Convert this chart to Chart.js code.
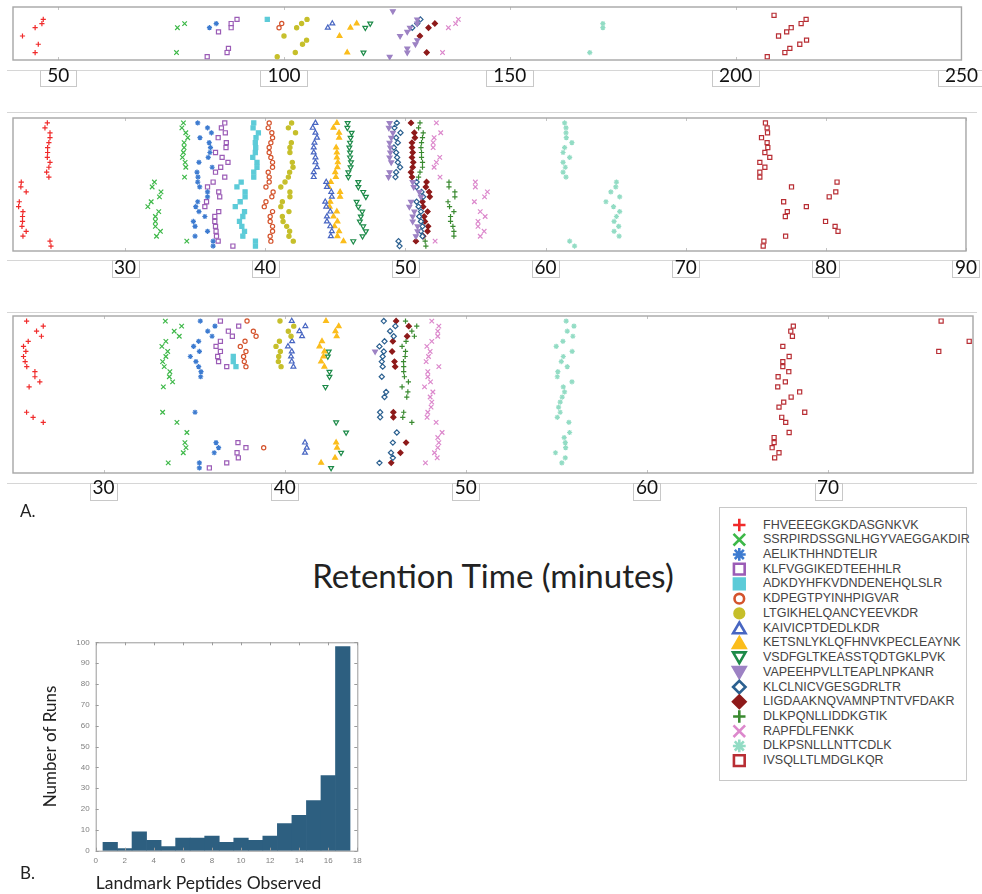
<!DOCTYPE html>
<html>
<head>
<meta charset="utf-8">
<script src="https://cdn.jsdelivr.net/npm/chart.js@4.4.1/dist/chart.umd.min.js"></script>
<style>
  body { margin: 0; background: #fff; }
  #page { position: relative; width: 982px; height: 894px; overflow: hidden; font-family: Lato, sans-serif; color: #222; }
  .abs { position: absolute; }
  .tag { font-size: 17px; }
  #title { left: 0; width: 986px; top: 555px; text-align: center; font-size: 33px; }
  #legend { left: 719px; top: 507px; width: 248px; height: 274px; border: 1px solid #c8c8c8; box-sizing: border-box; }
  .leg { left: 763px; font-family: "Liberation Sans", Arial, sans-serif; font-size: 12.5px; color: #444; line-height: 15px; white-space: nowrap; }
</style>
</head>
<body>
<div id="page">
  <canvas id="runTop" class="abs" style="left:0;top:0" width="982" height="95"></canvas>
  <canvas id="runMid" class="abs" style="left:0;top:105px" width="982" height="180"></canvas>
  <canvas id="runLow" class="abs" style="left:0;top:300px" width="982" height="205"></canvas>
  <div class="abs tag" style="left:20px;top:500px">A.</div>
  <div id="title" class="abs">Retention Time (minutes)</div>
  <div id="legend" class="abs"></div>
  <canvas id="legendMarks" class="abs" style="left:727px;top:515px" width="26" height="260"></canvas>
  <canvas id="hist" class="abs" style="left:0;top:630px" width="380" height="264"></canvas>
  <div class="abs tag" style="left:20px;top:862px">B.</div>
</div>

<script>
// landmark peptides, legend order
const peptides = ['FHVEEEGKGKDASGNKVK', 'SSRPIRDSSGNLHGYVAEGGAKDIR', 'AELIKTHHNDTELIR', 'KLFVGGIKEDTEEHHLR',
  'ADKDYHFKVDNDENEHQLSLR', 'KDPEGTPYINHPIGVAR', 'LTGIKHELQANCYEEVKDR', 'KAIVICPTDEDLKDR',
  'KETSNLYKLQFHNVKPECLEAYNK', 'VSDFGLTKEASSTQDTGKLPVK', 'VAPEEHPVLLTEAPLNPKANR', 'KLCLNICVGESGDRLTR',
  'LIGDAAKNQVAMNPTNTVFDAKR', 'DLKPQNLLIDDKGTIK', 'RAPFDLFENKK', 'DLKPSNLLLNTTCDLK', 'IVSQLLTLMDGLKQR'];

// [run, retention time in minutes] per peptide, top strip (12 runs)
const runsTop = [
  [[2,46.7],[3,46.4],[4,44.9],[6,42.1],[8,45.6],[10,44.9]],
  [[3,78.0],[4,76.4],[10,76.2]],
  [[3,85.0],[4,83.5]],
  [[2,89.6],[3,88.3],[4,88.3],[5,85.5],[9,87.7],[10,87.4],[11,83.0]],
  [[2,96.3]],
  [[3,99.5],[4,98.9]],
  [[2,105.1],[3,103.9],[4,102.8],[6,100.0],[7,105.0],[8,104.1],[10,102.5],[11,98.5]],
  [[3,110.7],[4,109.7]],
  [[3,116.1],[4,114.7],[6,112.3],[10,114.0]],
  [[3,119.1],[4,118.0],[10,117.6]],
  [[0,124.1],[2,129.5],[3,129.5],[4,127.9],[5,127.3],[6,125.7],[7,129.5],[8,129.1],[9,127.3],[10,127.3],[11,123.4]],
  [[2,130.2],[3,129.5],[4,128.4]],
  [[3,133.4],[4,132.0],[6,130.1],[10,131.6]],
  [],
  [[2,138.6],[3,138.0],[4,136.4],[10,135.1]],
  [[3,170.6],[4,170.6],[10,167.7]],
  [[1,208.5],[2,215.6],[3,214.5],[4,212.3],[5,211.3],[6,209.5],[7,215.7],[8,214.2],[9,212.0],[10,210.9],[11,207.0]]
];

// middle strip (26 runs)
const runsMid = [
  [[0,24.45],[1,24.28],[2,24.64],[3,24.64],[4,24.56],[5,24.47],[6,24.47],[7,24.45],[8,24.64],[9,24.56],[10,24.4],[11,24.56],[12,22.59],[13,22.56],[14,22.94],[16,22.45],[17,22.4],[18,22.71],[19,22.68],[20,22.68],[21,22.64],[22,22.94],[23,22.71],[24,24.64],[25,24.71]],
  [[0,34.16],[1,34.05],[2,34.33],[3,34.47],[4,34.21],[5,34.21],[6,34.16],[7,34.09],[8,34.28],[9,34.33],[11,34.24],[12,32.09],[13,31.93],[14,32.56],[15,32.45],[16,31.86],[17,31.62],[18,32.4],[19,32.16],[20,32.16],[21,32.16],[22,32.52],[23,32.24],[24,34.4]],
  [[0,35.18],[1,35.88],[2,36.16],[3,35.34],[4,36.0],[5,36.09],[6,36.05],[7,35.93],[8,35.27],[9,36.21],[10,35.13],[11,35.2],[12,35.18],[13,35.32],[14,35.88],[15,35.88],[16,35.18],[17,35.04],[18,35.27],[19,35.69],[20,34.87],[21,34.99],[22,35.88],[23,34.99],[24,36.28],[25,36.28]],
  [[0,37.11],[1,36.87],[2,37.15],[3,36.64],[4,37.22],[5,37.2],[6,36.45],[7,36.92],[8,37.34],[9,36.82],[10,36.45],[11,37.11],[12,36.28],[13,35.88],[14,36.68],[15,36.75],[16,35.81],[17,35.69],[18,36.68],[19,36.4],[20,36.4],[21,36.45],[22,36.49],[23,36.52],[24,36.64],[25,37.69]],
  [[0,39.18],[1,39.13],[2,39.51],[3,39.34],[4,39.29],[5,39.32],[6,39.29],[7,39.11],[8,39.41],[9,39.41],[10,39.18],[11,39.18],[12,38.28],[13,37.98],[14,38.56],[15,38.56],[16,38.21],[17,37.86],[18,38.52],[19,38.4],[20,38.16],[21,38.33],[22,38.52],[23,38.4],[24,39.3],[25,39.3]],
  [[0,40.28],[1,40.21],[2,40.47],[3,40.52],[4,40.4],[5,40.28],[6,40.28],[7,40.4],[8,40.52],[9,40.52],[10,40.21],[11,40.28],[12,40.28],[13,40.05],[14,40.56],[15,40.47],[16,40.05],[17,39.93],[18,40.52],[19,40.35],[20,40.35],[21,40.52],[22,40.52],[23,40.35],[24,40.4]],
  [[0,41.88],[1,41.65],[2,42.16],[4,41.86],[5,41.76],[6,41.76],[8,41.93],[9,41.98],[10,41.74],[11,41.65],[12,41.41],[13,41.11],[14,41.76],[15,41.76],[16,41.22],[17,41.11],[18,41.69],[19,41.22],[20,41.27],[21,41.53],[22,41.74],[23,41.69],[24,42.0]],
  [[0,43.58],[1,43.39],[2,43.58],[3,43.69],[4,43.51],[5,43.46],[6,43.46],[7,43.58],[8,43.58],[9,43.69],[10,43.46],[11,43.46],[12,44.35],[13,44.4],[14,44.71],[15,44.75],[16,44.28],[17,44.35],[18,44.64],[19,44.4],[20,44.4],[21,44.64],[22,44.75],[23,44.68]],
  [[0,45.11],[1,44.87],[2,45.27],[3,45.27],[5,45.06],[6,45.11],[7,45.11],[8,45.18],[9,45.15],[10,44.99],[11,45.04],[12,44.68],[13,44.52],[14,45.34],[15,45.34],[16,44.64],[17,44.59],[18,45.11],[19,44.87],[20,45.15],[21,44.94],[22,45.27],[23,45.15],[24,45.58]],
  [[0,45.88],[1,45.86],[2,46.16],[3,46.09],[4,46.05],[5,46.0],[6,46.05],[7,46.05],[8,46.12],[9,46.09],[10,45.93],[11,45.93],[12,46.64],[13,46.64],[14,46.99],[15,47.18],[16,46.52],[17,46.64],[18,46.92],[19,46.82],[20,46.75],[21,46.99],[22,47.18],[23,46.94],[24,46.28]],
  [[0,48.87],[1,48.82],[2,49.11],[3,48.99],[4,48.87],[5,48.92],[6,48.92],[7,48.87],[8,48.99],[10,48.87],[11,48.8],[12,50.52],[13,50.59],[14,50.99],[15,51.11],[16,50.4],[17,50.28],[18,50.64],[19,50.52],[20,50.52],[21,50.87],[22,50.87],[23,50.75]],
  [[0,49.39],[1,49.22],[2,49.65],[3,49.34],[4,49.46],[5,49.18],[6,49.34],[7,49.41],[8,49.46],[9,49.62],[10,49.34],[11,49.29],[12,50.8],[13,50.8],[14,51.15],[15,51.27],[16,50.8],[17,50.94],[18,51.11],[19,50.99],[20,51.11],[21,51.22],[22,51.11],[23,51.22],[24,49.51],[25,49.58]],
  [[0,50.4],[2,50.64],[3,50.68],[4,50.47],[5,50.47],[6,50.52],[7,50.47],[8,50.56],[9,50.52],[10,50.4],[11,50.47],[12,51.51],[13,51.46],[14,51.69],[15,51.74],[16,51.22],[17,51.27],[18,51.58],[19,51.34],[20,51.39],[21,51.62],[22,51.58],[23,51.27],[24,50.75]],
  [[0,51.04],[1,50.94],[2,51.27],[3,51.22],[4,51.15],[5,51.11],[6,51.15],[7,51.15],[8,51.22],[9,51.22],[10,51.04],[11,50.94],[12,53.11],[13,53.11],[14,53.53],[15,53.53],[16,53.04],[17,53.15],[18,53.46],[19,53.22],[20,53.22],[21,53.39],[22,53.46],[23,53.46],[24,51.41],[25,51.46]],
  [[0,52.21],[2,52.52],[3,52.05],[4,51.98],[5,51.98],[7,52.45],[8,52.21],[9,52.05],[11,52.47],[12,54.99],[13,54.99],[14,55.85],[15,55.65],[16,54.92],[18,55.34],[19,55.69],[20,55.18],[21,55.18],[22,55.62],[23,55.34],[24,52.12]],
  [[0,61.36],[1,61.46],[2,61.46],[3,61.48],[4,61.88],[5,61.36],[6,61.25],[7,61.72],[8,61.25],[9,61.41],[10,61.25],[11,61.46],[12,65.06],[13,65.01],[14,64.66],[15,65.29],[16,64.31],[17,64.85],[18,65.29],[19,65.06],[20,64.89],[21,65.22],[22,64.89],[23,65.25],[24,61.72],[25,62.07]],
  [[0,75.69],[1,75.81],[2,75.84],[3,75.41],[4,75.81],[5,75.86],[6,75.65],[7,76.0],[8,75.29],[9,75.65],[10,75.29],[11,75.29],[12,80.8],[13,77.55],[14,80.71],[15,80.24],[16,76.99],[17,78.61],[18,77.25],[19,77.11],[20,79.98],[21,80.66],[22,80.87],[23,77.13],[24,75.58],[25,75.53]]
];

// bottom strip (30 runs)
const runsLow = [
  [[0,25.75],[1,26.67],[2,26.3],[3,26.57],[4,25.84],[5,25.58],[6,25.71],[7,25.58],[8,25.67],[9,25.76],[10,26.21],[11,26.21],[12,26.48],[13,25.89],[18,25.75],[19,26.11],[20,26.67]],
  [[0,33.41],[1,34.31],[2,33.9],[3,34.18],[4,33.44],[5,33.22],[6,33.54],[7,33.44],[8,33.26],[9,33.35],[10,33.66],[11,33.63],[12,33.81],[13,33.3],[18,33.26],[20,34.05],[22,34.6],[24,34.49],[25,34.55],[26,34.4],[28,33.57]],
  [[0,35.34],[1,36.15],[2,35.75],[3,35.99],[4,35.25],[5,34.97],[6,35.29],[7,34.79],[8,35.1],[9,35.25],[10,35.38],[11,35.36],[18,35.05],[24,36.21],[25,36.35],[26,36.11],[28,35.29],[29,35.29]],
  [[0,36.45],[1,37.46],[2,36.89],[3,37.11],[4,36.45],[5,36.21],[6,36.45],[7,36.3],[8,36.35],[9,36.8],[24,37.42],[25,37.86],[26,37.37],[27,37.44],[28,36.8],[29,35.84]],
  [[7,37.16],[8,37.16],[9,37.31]],
  [[0,37.92],[2,38.27],[3,38.42],[4,37.81],[5,37.55],[6,37.86],[7,37.73],[8,37.77],[9,37.86],[25,38.84]],
  [[0,39.74],[1,40.5],[2,40.2],[3,40.35],[4,39.71],[5,39.52],[6,39.76],[7,39.67],[8,39.65],[9,39.8]],
  [[0,40.39],[1,41.14],[2,40.81],[3,40.96],[4,40.41],[5,40.18],[6,40.39],[7,40.35],[8,40.39],[9,40.48],[24,41.12],[25,41.22],[26,41.12]],
  [[0,42.28],[1,42.98],[2,42.8],[3,42.87],[4,42.06],[5,41.92],[6,42.19],[7,42.14],[8,42.01],[9,42.19],[24,42.84],[25,42.89],[27,42.78],[28,42.01]],
  [[6,42.43],[7,42.38],[10,42.47],[11,42.47],[13,42.25],[20,42.84],[22,43.39],[26,43.11],[29,42.56]],
  [[6,44.99]],
  [[0,45.47],[1,46.11],[2,45.82],[3,46.02],[4,45.51],[5,45.23],[6,45.47],[7,45.41],[8,45.36],[9,45.41],[11,45.36],[14,45.6],[15,45.51],[18,45.27],[19,45.27],[22,46.19],[24,45.97],[26,45.87],[27,45.97],[28,45.23]],
  [[0,46.15],[1,46.85],[3,46.76],[4,45.97],[6,45.93],[8,46.06],[9,46.1],[18,46.0],[19,46.0],[24,46.7],[26,46.39],[28,45.88]],
  [[0,46.67],[1,47.29],[2,47.02],[3,47.16],[4,46.7],[5,46.48],[6,46.67],[7,46.65],[8,46.56],[9,46.57],[10,46.57],[11,46.61],[12,46.83],[13,46.48],[14,46.8],[15,46.74],[18,46.57],[19,46.52],[20,47.02]],
  [[0,48.12],[1,48.51],[2,48.45],[3,48.45],[4,48.12],[5,47.85],[6,48.03],[7,47.94],[8,47.81],[9,48.51],[10,47.9],[11,47.9],[12,48.05],[13,47.72],[14,48.18],[15,48.03],[16,48.12],[17,48.08],[18,47.9],[19,47.86],[20,48.36],[22,48.69],[23,48.45],[24,48.51],[25,48.45],[26,48.27],[27,48.42],[28,47.77]],
  [[0,55.54],[1,55.97],[2,55.6],[3,55.91],[4,55.36],[5,54.99],[6,55.87],[7,55.38],[8,55.27],[9,55.6],[10,55.08],[11,55.05],[12,55.86],[13,55.38],[14,55.45],[15,55.32],[16,55.21],[17,55.12],[18,55.21],[19,55.05],[20,55.69],[22,55.73],[23,55.43],[24,55.49],[25,55.51],[26,54.95],[27,55.49],[28,55.3]],
  [[0,76.24],[1,68.08],[2,67.94],[3,68.03],[4,77.79],[5,67.5],[6,76.11],[7,67.85],[8,67.5],[9,67.5],[10,67.83],[11,67.24],[12,67.64],[13,67.22],[14,68.43],[15,67.96],[16,67.55],[17,67.29],[18,68.71],[19,67.44],[20,67.66],[22,67.85],[23,67.02],[24,67.02],[25,66.91],[26,67.29],[27,67.05]]
];

const ticksTop = [50, 100, 150, 200, 250];
const ticksMid = [30, 40, 50, 60, 70, 80, 90];
const ticksLow = [30, 40, 50, 60, 70];

// histogram: landmark peptides observed per run
const histBins = [1, 2, 3, 4, 5, 6, 7, 8, 9, 10, 11, 12, 13, 14, 15, 16, 17];
const histRuns = [4, 1, 9, 5, 2, 6, 6, 7, 4, 6, 5, 7, 13, 17, 24, 36, 98];
const histXTicks = [0, 2, 4, 6, 8, 10, 12, 14, 16, 18];
const histYTicks = [0, 10, 20, 30, 40, 50, 60, 70, 80, 90, 100];

// marker styles
const markColor = ['#f02a2a', '#3db848', '#3d7bd0', '#9b5cb6', '#5ccbd8', '#d4532c', '#c6bf2a', '#4866c2',
  '#fbbd1c', '#1c8a48', '#9d82c4', '#2b6090', '#8e1a1a', '#3a8a30', '#dc88cc', '#92dcc4', '#b82e34'];
const markStyle = ['cross', 'crossRot', 'star', 'rect', 'rect', 'circle', 'circle', 'triangle',
  'triangle', 'triangle', 'triangle', 'rectRot', 'rectRot', 'cross', 'crossRot', 'star', 'rect'];
const markTurn = [0, 0, 0, 0, 0, 0, 0, 0, 0, 180, 180, 0, 0, 0, 0, 0, 0];
const markOpen = [false, false, false, true, false, true, false, true, false, true, false, true, false, false, false, false, true];
const plotSize = {cross: 2.6, crossRot: 3.2, star: 2.6, rect: 2.9, circle: 2.1, triangle: 2.8, rectRot: 2.6};
const legendSize = {cross: 6.2, crossRot: 8.2, star: 6.4, rect: 7.6, circle: 4.8, triangle: 7.2, rectRot: 6.2};

const decoPlugin = {
  id: 'deco',
  beforeDraw(chart, args, opts) {
    const ctx = chart.ctx;
    const sx = chart.scales.x;
    ctx.save();
    ctx.strokeStyle = '#d6d6d6';
    ctx.lineWidth = 1;
    (opts.rules || []).forEach(y => {
      ctx.beginPath(); ctx.moveTo(7, y + 0.5); ctx.lineTo(977, y + 0.5); ctx.stroke();
    });
    ctx.strokeStyle = '#c8c8c8';
    ctx.font = '19px Lato';
    sx.ticks.forEach(t => {
      const px = sx.getPixelForValue(t.value);
      const w = Math.round(ctx.measureText(String(t.value)).width + opts.boxPad);
      ctx.strokeRect(Math.round(px - w / 2) + 0.5, opts.boxTop + 0.5, w, opts.boxH);
    });
    ctx.restore();
  },
  beforeDatasetsDraw(chart) {
    const {ctx, chartArea: a} = chart;
    const sx = chart.scales.x;
    ctx.save();
    ctx.strokeStyle = '#c4c4c4';
    ctx.lineWidth = 1;
    sx.ticks.forEach(t => {
      const px = Math.round(sx.getPixelForValue(t.value)) + 0.5;
      ctx.beginPath();
      ctx.moveTo(px, a.top); ctx.lineTo(px, a.top + 3);
      ctx.moveTo(px, a.bottom); ctx.lineTo(px, a.bottom - 3);
      ctx.stroke();
    });
    ctx.strokeStyle = '#a6a6a6';
    ctx.lineWidth = 1.4;
    ctx.strokeRect(a.left, a.top, a.right - a.left, a.bottom - a.top);
    ctx.restore();
  }
};

function stripSets(runs) {
  return runs.map((pts, i) => ({
    label: peptides[i],
    data: pts.map(([run, minutes]) => ({x: minutes, y: run})),
    pointStyle: markStyle[i],
    rotation: markTurn[i],
    pointRadius: plotSize[markStyle[i]],
    borderWidth: 1.2,
    borderColor: markColor[i],
    backgroundColor: markOpen[i] ? '#ffffff' : markColor[i]
  }));
}

function stripChart(id, runs, xMin, xMax, ticks, runCount, padTop, axisH, labelPad, deco) {
  new Chart(document.getElementById(id), {
    type: 'scatter',
    data: {datasets: stripSets(runs)},
    options: {
      responsive: false,
      animation: false,
      events: [],
      layout: {padding: {left: 13, right: 9, top: padTop, bottom: 0}},
      plugins: {legend: {display: false}, tooltip: {enabled: false}, deco: deco},
      scales: {
        x: {
          type: 'linear', min: xMin, max: xMax,
          afterBuildTicks: s => { s.ticks = ticks.map(v => ({value: v})); },
          afterFit: s => { s.height = axisH; },
          grid: {display: false, drawTicks: false},
          border: {display: false},
          ticks: {padding: labelPad, autoSkip: false, maxRotation: 0, color: '#111', font: {family: 'Lato', size: 19}}
        },
        y: {display: false, reverse: true, min: -1, max: runCount}
      }
    },
    plugins: [decoPlugin]
  });
}

stripChart('runTop', runsTop, 40, 250, ticksTop, 11.8, 7, 35, 4, {rules: [70], boxTop: 70, boxH: 16, boxPad: 14});
stripChart('runMid', runsMid, 22, 90, ticksMid, 26, 13, 34, 5, {rules: [7, 155], boxTop: 155, boxH: 17, boxPad: 5});
stripChart('runLow', runsLow, 25, 78, ticksLow, 30, 16, 32, 3, {rules: [12, 183], boxTop: 183, boxH: 17, boxPad: 5});

// legend
const page = document.getElementById('page');
const lctx = document.getElementById('legendMarks').getContext('2d');
lctx.lineWidth = 2.6;
peptides.forEach((name, i) => {
  const cy = 525 + i * 14.73;
  const row = document.createElement('div');
  row.className = 'abs leg';
  row.style.top = (cy - 7.5) + 'px';
  row.textContent = name;
  page.appendChild(row);
  const st = markStyle[i];
  lctx.strokeStyle = markColor[i];
  lctx.fillStyle = markOpen[i] ? '#ffffff' : markColor[i];
  let dy = 0;
  if (st === 'triangle') dy = markTurn[i] ? -1.6 : 1.6;
  Chart.helpers.drawPoint(lctx, {pointStyle: st, rotation: markTurn[i], radius: legendSize[st], borderWidth: 2.6}, 12.3, cy - 515 + dy);
});

// histogram frame with inward ticks
const histFrame = {
  id: 'histFrame',
  afterDatasetsDraw(chart) {
    const {ctx, chartArea: a, scales: {x, y}} = chart;
    ctx.save();
    ctx.strokeStyle = '#9a9a9a';
    ctx.lineWidth = 1;
    ctx.strokeRect(a.left + 0.5, a.top + 0.5, a.right - a.left, a.bottom - a.top);
    ctx.beginPath();
    histXTicks.forEach(v => {
      const px = Math.round(x.getPixelForValue(v)) + 0.5;
      ctx.moveTo(px, a.bottom); ctx.lineTo(px, a.bottom - 3);
      ctx.moveTo(px, a.top); ctx.lineTo(px, a.top + 3);
    });
    histYTicks.forEach(v => {
      const py = Math.round(y.getPixelForValue(v)) + 0.5;
      ctx.moveTo(a.left, py); ctx.lineTo(a.left + 3, py);
      ctx.moveTo(a.right, py); ctx.lineTo(a.right - 3, py);
    });
    ctx.stroke();
    ctx.restore();
  }
};

new Chart(document.getElementById('hist'), {
  type: 'bar',
  data: {
    datasets: [{
      data: histBins.map((b, i) => ({x: b, y: histRuns[i]})),
      backgroundColor: '#2d5f80',
      borderWidth: 0,
      barPercentage: 1,
      categoryPercentage: 1
    }]
  },
  options: {
    responsive: false,
    animation: false,
    events: [],
    layout: {padding: {left: 40, right: 22.7, top: 12.3, bottom: 0}},
    plugins: {legend: {display: false}, tooltip: {enabled: false}},
    scales: {
      x: {
        type: 'linear', min: 0, max: 18, offset: false,
        afterBuildTicks: s => { s.ticks = histXTicks.map(v => ({value: v})); },
        afterFit: s => { s.height = 43.3; },
        grid: {display: false, drawTicks: false, offset: false},
        border: {display: false},
        ticks: {padding: 5, maxRotation: 0, color: '#808080', font: {family: 'Liberation Sans', size: 8}},
        title: {display: true, text: 'Landmark Peptides Observed', align: 'start', color: '#222', padding: 0, font: {family: 'Lato', size: 17.5}}
      },
      y: {
        min: 0, max: 100,
        afterBuildTicks: s => { s.ticks = histYTicks.map(v => ({value: v})); },
        afterFit: s => { s.width = 55.7; },
        grid: {display: false, drawTicks: false},
        border: {display: false},
        ticks: {padding: 6, color: '#808080', font: {family: 'Liberation Sans', size: 8}},
        title: {display: true, text: 'Number of Runs', color: '#222', padding: 0, font: {family: 'Lato', size: 17}}
      }
    }
  },
  plugins: [histFrame]
});
</script>
</body>
</html>
